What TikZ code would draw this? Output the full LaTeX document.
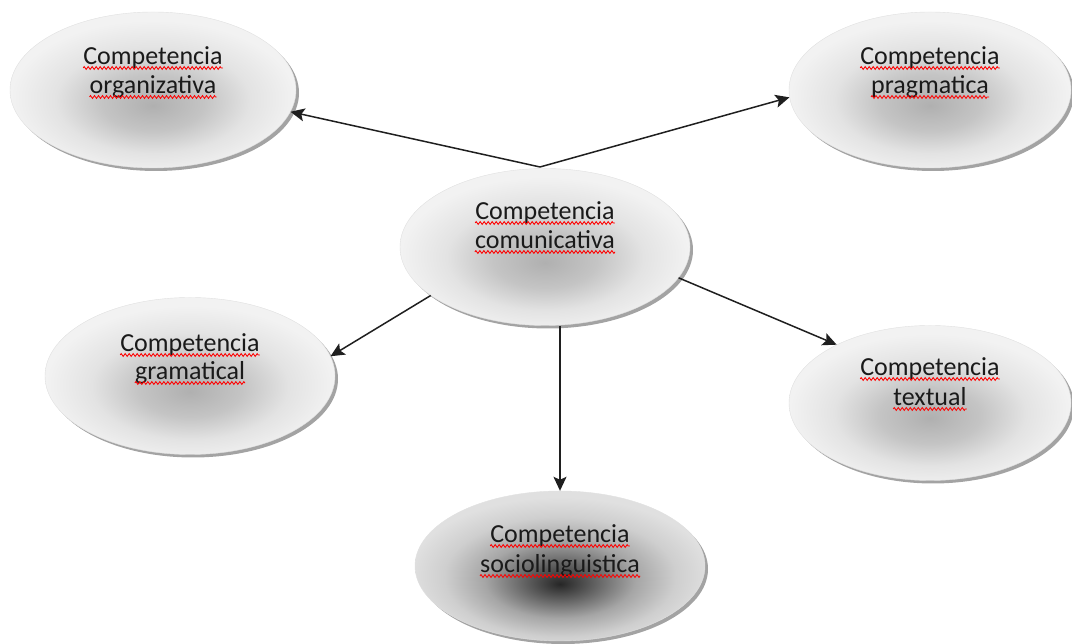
\documentclass[tikz,border=0pt]{standalone}
\usepackage{fontspec}
\setmainfont{Carlito}
\usetikzlibrary{shapes.geometric,shadows,arrows.meta,decorations.pathmorphing}
\definecolor{txt}{HTML}{1A1A1A}
\pgfdeclareradialshading{bubble}{\pgfpoint{0bp}{-5bp}}{color(0bp)=(black!31); color(9bp)=(black!23); color(17bp)=(black!11); color(25bp)=(black!5); color(50bp)=(black!5)}
\pgfdeclareradialshading{bubbledark}{\pgfpoint{0bp}{-6bp}}{color(0bp)=(black!85); color(6bp)=(black!62); color(13bp)=(black!35); color(20bp)=(black!19); color(26bp)=(black!12); color(50bp)=(black!12)}
\tikzset{
 bub/.style={ellipse, draw=black!12, line width=0.4pt, shading=bubble, inner sep=0pt,
   drop shadow={shadow xshift=3pt, shadow yshift=-3pt, fill=black!60, opacity=0.6}},
 lbl/.style={font=\fontsize{26}{30}\selectfont, text=txt, inner sep=0pt, anchor=base},
 wave/.style={draw=red, line width=0.85pt, decorate, decoration={zigzag, amplitude=1.4pt, segment length=4pt}},
 arr/.style={-{Stealth[length=14pt,width=13pt,inset=3pt]}, line width=1.5pt, draw=black!88}
}
\newcommand\wline[3]{%
 \node[lbl] (#1) at (#2) {#3};
 \draw[wave] ([yshift=-3pt]#1.base west) -- ([yshift=-3pt]#1.base east);}
\begin{document}
\begin{tikzpicture}[x=1pt,y=1pt]
\useasboundingbox (0,0) rectangle (1072,644);
\node[bub, minimum width=286pt, minimum height=156pt] (org) at (153,554) {};
\wline{orgA}{[yshift=25pt]org.center}{Competencia}
\wline{orgB}{[yshift=-4pt]org.center}{organizativa}
\node[bub, minimum width=282pt, minimum height=156pt] (prag) at (930,554) {};
\wline{pragA}{[yshift=25pt]prag.center}{Competencia}
\wline{pragB}{[yshift=-4pt]prag.center}{pragmatica}
\node[bub, minimum width=290pt, minimum height=157pt] (com) at (545,397) {};
\wline{comA}{[yshift=27pt]com.center}{Competencia}
\wline{comB}{[yshift=-2pt]com.center}{comunicativa}
\node[bub, minimum width=290pt, minimum height=157pt] (gram) at (190,268) {};
\wline{gramA}{[yshift=24pt]gram.center}{Competencia}
\wline{gramB}{[yshift=-4pt]gram.center}{gramatical}
\node[bub, minimum width=282pt, minimum height=155pt] (text) at (930,241) {};
\wline{textA}{[yshift=27pt]text.center}{Competencia}
\wline{textB}{[yshift=-3pt]text.center}{textual}
\node[bub, shading=bubbledark, minimum width=290pt, minimum height=150pt] (socio) at (560,78) {};
\wline{socioA}{[yshift=23pt]socio.center}{Competencia}
\wline{socioB}{[yshift=-7pt]socio.center}{sociolinguistica}
\coordinate (v) at (540,477);
\draw[arr] (v) -- (org.351);
\draw[arr] (v) -- (prag.183);
\draw[arr] (com.203.6) -- (gram.8);
\draw[arr] (socio.north |- com.south) -- (socio.north);
\draw[arr] (com.347) -- (text.148);
\end{tikzpicture}
\end{document}
